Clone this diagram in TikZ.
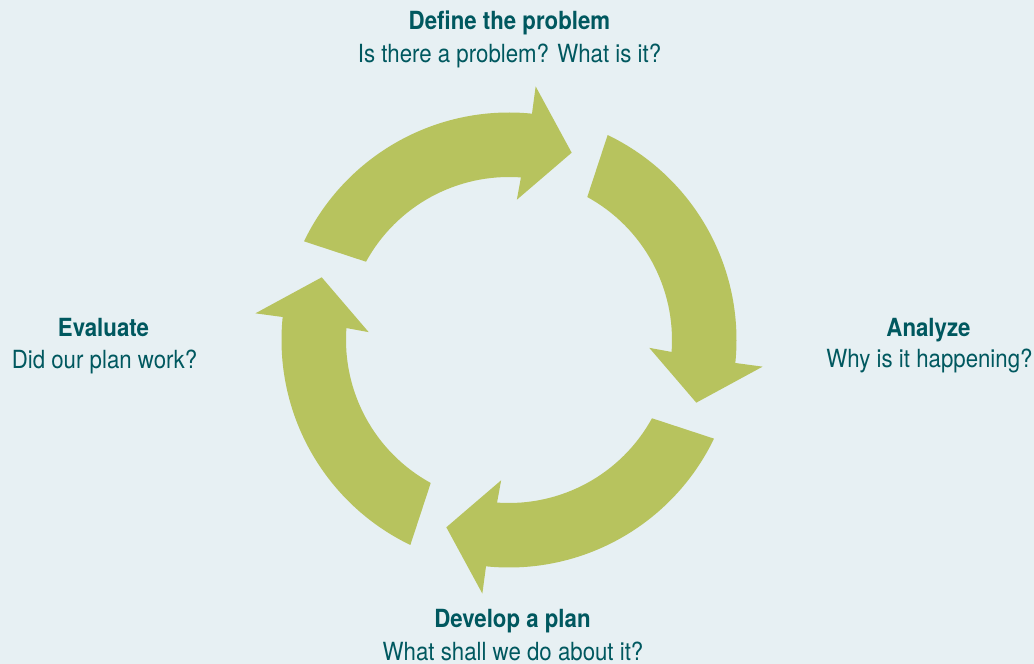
\documentclass[tikz,border=0pt]{standalone}
\usepackage{fontspec}
\setmainfont{TeX Gyre Heros}[FakeStretch=0.89]
\definecolor{bgc}{HTML}{E7F0F3}
\definecolor{arrowc}{HTML}{B7C35E}
\definecolor{textc}{HTML}{00585F}
\begin{document}
\begin{tikzpicture}[x=1pt,y=1pt,
  title/.style={anchor=base,inner sep=0pt,text=textc,font=\fontsize{25}{29}\selectfont\bfseries},
  sub/.style={anchor=base,inner sep=0pt,text=textc,font=\fontsize{25}{29}\selectfont},
  cyclearrow/.style={fill=arrowc,draw=none}]
\fill[bgc] (0,0) rectangle (1034,664);
\useasboundingbox (0,0) rectangle (1034,664);
\coordinate (c) at (509,324);
\foreach \r in {0,-90,-180,-270}{
  \begin{scope}[shift={(c)},rotate=\r]
    \fill[cyclearrow] (154.3:227.5) arc[start angle=154.3,end angle=84.2,radius=227.5]
      -- (84:255) -- (71.5:197.5) -- (86.8:140.5) -- (85.8:163)
      arc[start angle=85.8,end angle=151.3,radius=163] -- cycle;
  \end{scope}
}
\node[title] (deft) at (509.5,634.7) {Define the problem};
\node[sub] (defs) at (509.5,601.5) {Is there a problem? What is it?};
\node[title] (anat) at (928.5,327.5) {Analyze};
\node[sub] (anas) at (929.5,296) {Why is it happening?};
\node[title] (devt) at (512.5,36) {Develop a plan};
\node[sub] (devs) at (513,3.5) {What shall we do about it?};
\node[title] (evat) at (103.5,327.3) {Evaluate};
\node[sub] (evas) at (104.5,295.7) {Did our plan work?};
\end{tikzpicture}
\end{document}
